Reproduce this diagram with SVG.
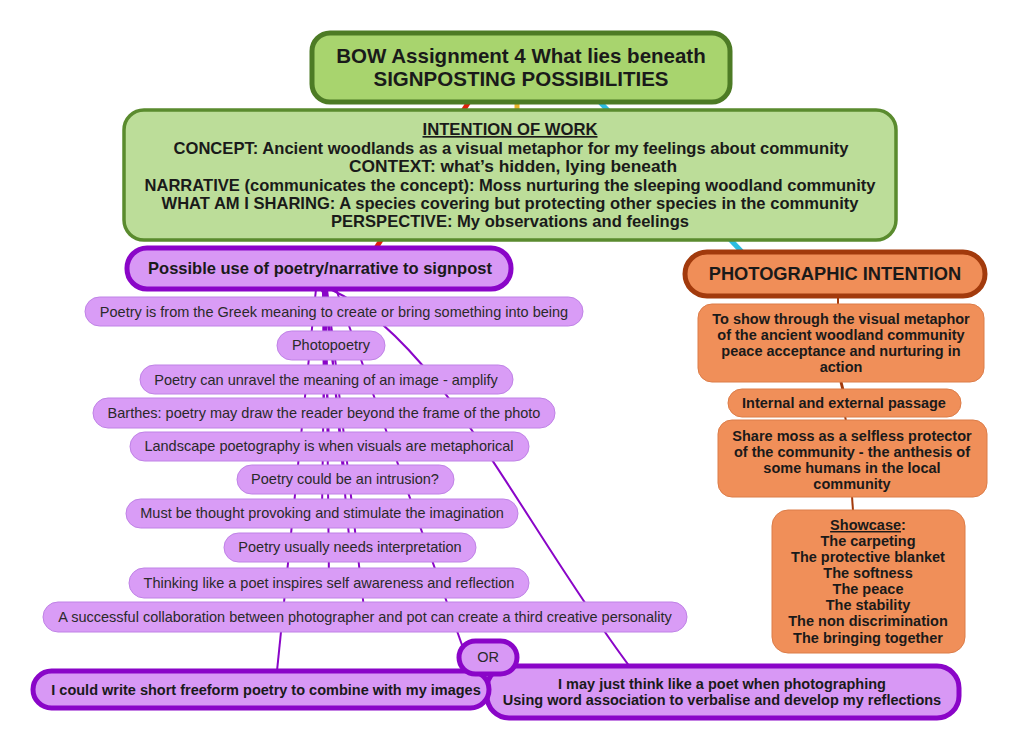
<svg xmlns="http://www.w3.org/2000/svg" width="1024" height="751" viewBox="0 0 1024 751">
<style>
text{font-family:"Liberation Sans",Arial,sans-serif;fill:#1a1a1a;text-anchor:middle}
.b{font-weight:bold}
.title{fill:#a8d46e;stroke:#4d7b25;stroke-width:5}
.intent{fill:#bcdd99;stroke:#5a8b2e;stroke-width:3.5}
.pmain{fill:#d898f5;stroke:#8a05c8;stroke-width:5}
.pchild{fill:#d99cf6;stroke:#bf82e6;stroke-width:1}
.omain{fill:#f08e58;stroke:#a23a0c;stroke-width:5}
.ochild{fill:#f08f59;stroke:#dc7c48;stroke-width:1}
.pc{fill:none;stroke:#8a05c8;stroke-width:2}
.ct{font-size:14.5px;fill:#2a2a2a}
.ot{font-size:14.5px;font-weight:bold}
.it{font-size:16.5px;font-weight:bold}
</style>
<rect width="1024" height="751" fill="#ffffff"/>
<g id="connectors">
<line x1="470" y1="100" x2="376" y2="248" stroke="#e0200c" stroke-width="5"/>
<line x1="517" y1="100" x2="517" y2="115" stroke="#e8b52a" stroke-width="5"/>
<line x1="598" y1="100" x2="742" y2="252" stroke="#2bbce0" stroke-width="5"/>
<line x1="838" y1="296" x2="838" y2="306" stroke="#a23a0c" stroke-width="2"/>
<line x1="841" y1="382" x2="843" y2="390" stroke="#a23a0c" stroke-width="3"/>
<line x1="845" y1="416" x2="846" y2="421" stroke="#a23a0c" stroke-width="2"/>
<line x1="852" y1="496" x2="853" y2="511" stroke="#a23a0c" stroke-width="2"/>
<path class="pc" d="M316 289 L277 671"/>
<path class="pc" d="M336 289 L462 645"/>
<path class="pc" d="M330 289 C440 340 520 520 630 667"/>
<path class="pc" stroke-width="3" d="M321 289 L334 312"/>
<path class="pc" d="M323 289 L331 345"/>
<path class="pc" d="M323 289 L326 380"/>
<path class="pc" d="M323 289 L324 413"/>
<path class="pc" d="M324 289 L329 446"/>
<path class="pc" d="M325 289 L345 479"/>
<path class="pc" d="M325 289 L322 513"/>
<path class="pc" d="M326 289 L350 547"/>
<path class="pc" d="M326 289 L329 583"/>
<path class="pc" d="M327 289 L365 617"/>
</g>
<g id="title">
<rect class="title" x="312" y="33" width="418" height="69" rx="18"/>
<text class="b" x="521" y="63" font-size="20.5">BOW Assignment 4 What lies beneath</text>
<text class="b" x="521" y="86" font-size="20.5">SIGNPOSTING POSSIBILITIES</text>
</g>
<g id="intention">
<rect class="intent" x="124" y="110" width="772" height="130" rx="20"/>
<text class="it" x="510" y="135" textLength="175" lengthAdjust="spacingAndGlyphs" text-decoration="underline">INTENTION OF WORK</text>
<text class="it" x="511" y="154" textLength="675" lengthAdjust="spacingAndGlyphs">CONCEPT: Ancient woodlands as a visual metaphor for my feelings about community</text>
<text class="it" x="513" y="172" textLength="328" lengthAdjust="spacingAndGlyphs">CONTEXT: what’s hidden, lying beneath</text>
<text class="it" x="510" y="191" textLength="731" lengthAdjust="spacingAndGlyphs">NARRATIVE (communicates the concept): Moss nurturing the sleeping woodland community</text>
<text class="it" x="510" y="209" textLength="697" lengthAdjust="spacingAndGlyphs">WHAT AM I SHARING: A species covering but protecting other species in the community</text>
<text class="it" x="510" y="227" textLength="358" lengthAdjust="spacingAndGlyphs">PERSPECTIVE: My observations and feelings</text>
</g>
<g id="poetry-main">
<rect class="pmain" x="127" y="248" width="384" height="41" rx="20"/>
<text class="b" x="320" y="274" font-size="16.5">Possible use of poetry/narrative to signpost</text>
</g>
<g id="c1"><rect class="pchild" x="85" y="297" width="498" height="29" rx="14.5"/><text class="ct" x="334" y="317">Poetry is from the Greek meaning to create or bring something into being</text></g>
<g id="c2"><rect class="pchild" x="277" y="331" width="108" height="29" rx="14.5"/><text class="ct" x="331" y="350">Photopoetry</text></g>
<g id="c3"><rect class="pchild" x="140" y="365" width="373" height="29" rx="14.5"/><text class="ct" x="326" y="385">Poetry can unravel the meaning of an image - amplify</text></g>
<g id="c4"><rect class="pchild" x="93" y="398" width="462" height="30" rx="15"/><text class="ct" x="324" y="418">Barthes: poetry may draw the reader beyond the frame of the photo</text></g>
<g id="c5"><rect class="pchild" x="130" y="432" width="399" height="29" rx="14.5"/><text class="ct" x="329" y="451">Landscape poetography is when visuals are metaphorical</text></g>
<g id="c6"><rect class="pchild" x="237" y="465" width="217" height="29" rx="14.5"/><text class="ct" x="345" y="484">Poetry could be an intrusion?</text></g>
<g id="c7"><rect class="pchild" x="126" y="499" width="392" height="29" rx="14.5"/><text class="ct" x="322" y="518">Must be thought provoking and stimulate the imagination</text></g>
<g id="c8"><rect class="pchild" x="224" y="533" width="252" height="29" rx="14.5"/><text class="ct" x="350" y="552">Poetry usually needs interpretation</text></g>
<g id="c9"><rect class="pchild" x="129" y="568" width="400" height="30" rx="15"/><text class="ct" x="329" y="588">Thinking like a poet inspires self awareness and reflection</text></g>
<g id="c10"><rect class="pchild" x="43" y="602" width="644" height="30" rx="15"/><text class="ct" x="365" y="622">A successful collaboration between photographer and pot can create a third creative personality</text></g>
<g id="may-think">
<rect class="pmain" x="487" y="666" width="472" height="52" rx="22"/>
<text class="b" x="722" y="689" font-size="14.5">I may just think like a poet when photographing</text>
<text class="b" x="722" y="705" font-size="14.5">Using word association to verbalise and develop my reflections</text>
</g>
<g id="could-write">
<rect class="pmain" x="33" y="671" width="456" height="37" rx="18.5"/>
<text class="b" x="266" y="695" font-size="14.5">I could write short freeform poetry to combine with my images</text>
</g>
<g id="or">
<rect class="pmain" x="459" y="641" width="58" height="33" rx="16.5"/>
<text class="ct" x="488" y="662">OR</text>
</g>
<g id="photo-main">
<rect class="omain" x="685" y="252" width="300" height="44" rx="22"/>
<text class="b" x="835" y="280" font-size="18.3">PHOTOGRAPHIC INTENTION</text>
</g>
<g id="o1">
<rect class="ochild" x="698" y="304" width="286" height="78" rx="14"/>
<text class="ot" x="841" y="324">To show through the visual metaphor</text>
<text class="ot" x="841" y="340">of the ancient woodland community</text>
<text class="ot" x="841" y="356">peace acceptance and nurturing in</text>
<text class="ot" x="841" y="372">action</text>
</g>
<g id="o2">
<rect class="ochild" x="728" y="389" width="233" height="28" rx="14"/>
<text class="ot" x="844" y="408">Internal and external passage</text>
</g>
<g id="o3">
<rect class="ochild" x="718" y="420" width="269" height="77" rx="14"/>
<text class="ot" x="852" y="441">Share moss as a selfless protector</text>
<text class="ot" x="852" y="457">of the community - the anthesis of</text>
<text class="ot" x="852" y="473">some humans in the local</text>
<text class="ot" x="852" y="489">community</text>
</g>
<g id="o4">
<rect class="ochild" x="772" y="510" width="193" height="143" rx="16"/>
<text class="ot" x="868" y="530"><tspan text-decoration="underline">Showcase</tspan>:</text>
<text class="ot" x="868" y="546">The carpeting</text>
<text class="ot" x="868" y="562">The protective blanket</text>
<text class="ot" x="868" y="578">The softness</text>
<text class="ot" x="868" y="594">The peace</text>
<text class="ot" x="868" y="610">The stability</text>
<text class="ot" x="868" y="626">The non discrimination</text>
<text class="ot" x="868" y="643">The bringing together</text>
</g>
</svg>
